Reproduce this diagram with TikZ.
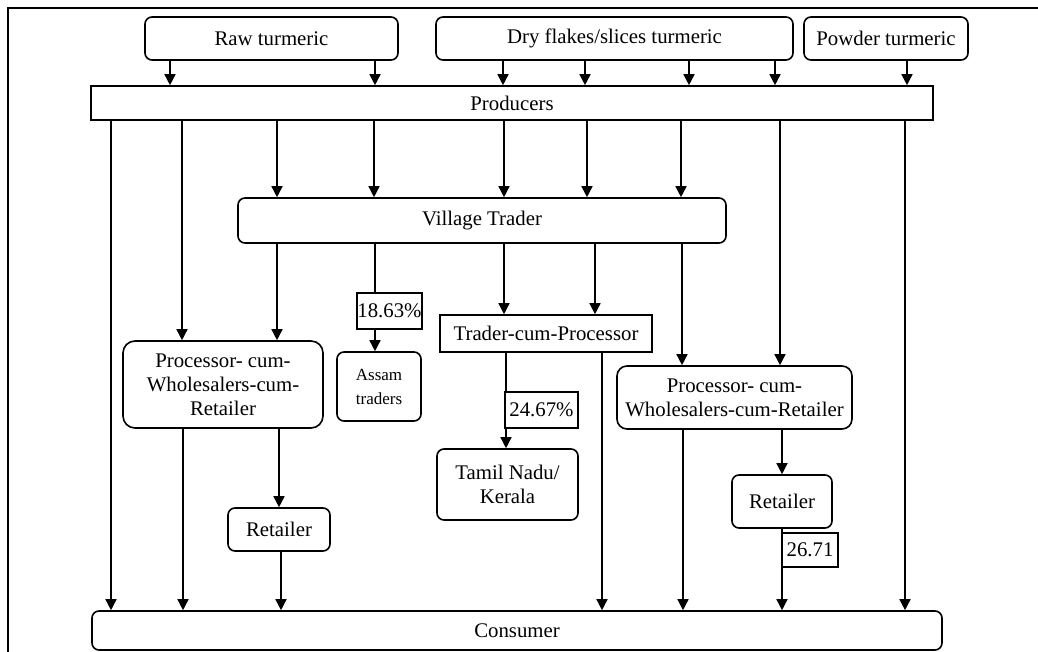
\documentclass[tikz,border=0pt]{standalone}
\usepackage{fontspec}
\setmainfont{Liberation Serif}
\newfontfamily\tnr{Liberation Serif}
\usetikzlibrary{arrows.meta}
\tikzset{
  box/.style={draw, line width=1.6pt, rounded corners=7pt, align=center, inner sep=0pt,
    font=\tnr\fontsize{20.8}{24}\selectfont},
  sbox/.style={draw, line width=1.6pt, align=center, inner sep=0pt,
    font=\tnr\fontsize{20.8}{24}\selectfont},
  arr/.style={line width=1.5pt, -{Triangle[length=11pt,width=11pt]}},
  ln/.style={line width=1.5pt},
}
\begin{document}
\begin{tikzpicture}[x=1pt,y=-1pt]
\useasboundingbox (0,0) rectangle (1038,652);
\fill[white] (0,0) rectangle (1038,652);
% frame
\draw[line width=2.8pt] (8,652) -- (8,8) -- (1038,8);

% nodes
\node[box, minimum width=253pt, minimum height=43pt] (raw) at (271.5,38.5) {Raw turmeric};
\node[box, minimum width=357pt, minimum height=43pt] (dry) at (614.5,38.5) {Dry flakes/slices turmeric};
\node[box, minimum width=164pt, minimum height=43pt] (powder) at (886,38.5) {Powder turmeric};
\node[sbox, minimum width=842pt, minimum height=34pt] (prod) at (512,103) {Producers};
\node[box, minimum width=488pt, minimum height=45pt] (vt) at (482,220.5) {Village Trader};
\node[box, rounded corners=12pt, minimum width=200pt, minimum height=87pt] (pwrL) at (223,384.5) {Processor- cum-\\Wholesalers-cum-\\Retailer};
\node[sbox, minimum width=65pt, minimum height=36pt] (l1863) at (389.5,311) {18.63\%};
\node[box, minimum width=84pt, minimum height=69pt, font=\tnr\fontsize{17}{24}\selectfont] (assam) at (379,386.5) {Assam\\traders};
\node[sbox, minimum width=212pt, minimum height=37pt] (tcp) at (546,333.5) {Trader-cum-Processor};
\node[sbox, minimum width=73pt, minimum height=36pt] (l2467) at (541.5,410) {24.67\%};
\node[box, minimum width=141pt, minimum height=71pt] (tamil) at (507.5,484.5) {Tamil Nadu/\\Kerala};
\node[box, rounded corners=10pt, minimum width=235pt, minimum height=63pt] (pwrR) at (734.5,397.5) {Processor- cum-\\Wholesalers-cum-Retailer};
\node[box, minimum width=102pt, minimum height=43pt] (retL) at (279,529.5) {Retailer};
\node[box, minimum width=100pt, minimum height=53pt] (retR) at (782,501.5) {Retailer};
\node[sbox, minimum width=56pt, minimum height=34pt] (l2671) at (810,550) {26.71};
\node[box, minimum width=850pt, minimum height=39pt] (cons) at (517,630.5) {Consumer};

% sources -> producers
\draw[arr] (raw.south -| 170,0) -- (prod.north -| 170,0);
\draw[arr] (raw.south -| 375,0) -- (prod.north -| 375,0);
\draw[arr] (dry.south -| 503,0) -- (prod.north -| 503,0);
\draw[arr] (dry.south -| 585,0) -- (prod.north -| 585,0);
\draw[arr] (dry.south -| 689,0) -- (prod.north -| 689,0);
\draw[arr] (dry.south -| 775,0) -- (prod.north -| 775,0);
\draw[arr] (powder.south -| 907,0) -- (prod.north -| 907,0);

% producers -> ...
\draw[arr] (prod.south -| 111,0) -- (cons.north -| 111,0);
\draw[arr] (prod.south -| 182,0) -- (pwrL.north -| 182,0);
\draw[arr] (prod.south -| 277,0) -- (vt.north -| 277,0);
\draw[arr] (prod.south -| 374,0) -- (vt.north -| 374,0);
\draw[arr] (prod.south -| 504,0) -- (vt.north -| 504,0);
\draw[arr] (prod.south -| 587,0) -- (vt.north -| 587,0);
\draw[arr] (prod.south -| 681,0) -- (vt.north -| 681,0);
\draw[arr] (prod.south -| 780,0) -- (pwrR.north -| 780,0);
\draw[arr] (prod.south -| 905,0) -- (cons.north -| 905,0);

% village trader -> ...
\draw[arr] (vt.south -| 277,0) -- (pwrL.north -| 277,0);
\draw[ln] (vt.south -| 375,0) -- (l1863.north -| 375,0);
\draw[arr] (l1863.south -| 375,0) -- (assam.north -| 375,0);
\draw[arr] (vt.south -| 504,0) -- (tcp.north -| 504,0);
\draw[arr] (vt.south -| 595,0) -- (tcp.north -| 595,0);
\draw[arr] (vt.south -| 682,0) -- (pwrR.north -| 682,0);

% trader-cum-processor
\draw[ln] (tcp.south -| 506,0) -- (l2467.north -| 506,0);
\draw[arr] (l2467.south -| 506,0) -- (tamil.north -| 506,0);
\draw[arr] (tcp.south -| 602,0) -- (cons.north -| 602,0);

% left processor
\draw[arr] (pwrL.south -| 183,0) -- (cons.north -| 183,0);
\draw[arr] (pwrL.south -| 279,0) -- (retL.north -| 279,0);
\draw[arr] (retL.south -| 281,0) -- (cons.north -| 281,0);

% right processor
\draw[arr] (pwrR.south -| 683,0) -- (cons.north -| 683,0);
\draw[arr] (pwrR.south -| 782,0) -- (retR.north -| 782,0);
\draw[ln] (retR.south -| 782,0) -- (l2671.north -| 782,0);
\draw[arr] (l2671.south -| 782,0) -- (cons.north -| 782,0);
\end{tikzpicture}
\end{document}
